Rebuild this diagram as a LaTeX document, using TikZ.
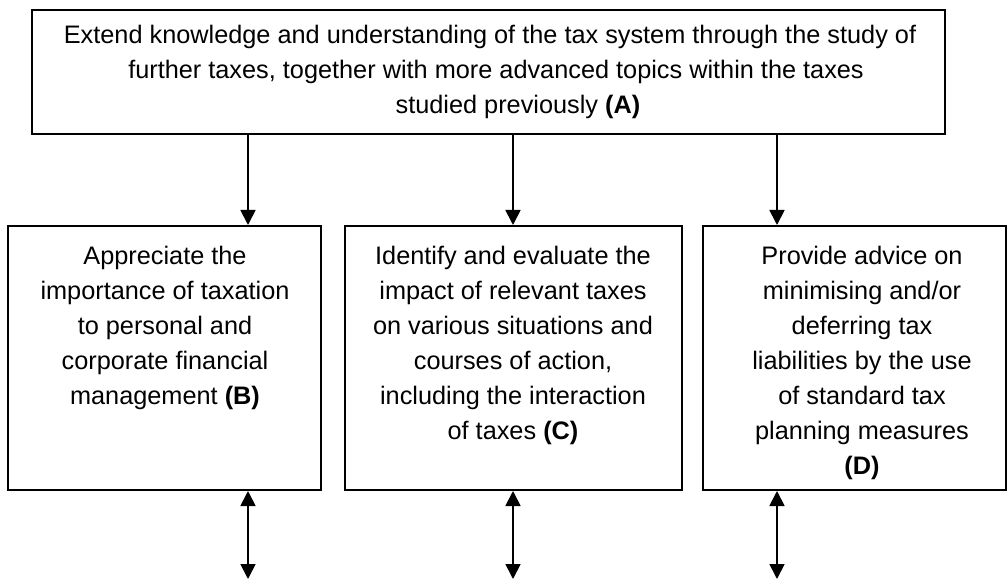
\documentclass[tikz,border=0pt]{standalone}
\usepackage{fontspec}
\setmainfont{Liberation Sans}
\usetikzlibrary{arrows.meta}
\begin{document}
\begin{tikzpicture}[x=1pt,y=-1pt,
  box/.style={draw, line width=2pt, inner sep=0pt},
  txt/.style={font=\fontsize{25.3}{35}\selectfont, align=center, inner sep=0pt},
  arr/.style={line width=1.8pt, -{Triangle[length=15pt,width=15pt]}},
  darr/.style={line width=1.8pt, {Triangle[length=15pt,width=15pt]}-{Triangle[length=15pt,width=15pt]}}]
\useasboundingbox (0,0) rectangle (1007,580);
% boxes
\node[box, minimum width=913pt, minimum height=124pt] (A) at (488.5,72) {};
\node[box, minimum width=313pt, minimum height=264pt] (B) at (164.5,358) {};
\node[box, minimum width=337pt, minimum height=264pt] (C) at (513.5,358) {};
\node[box, minimum width=303pt, minimum height=264pt] (D) at (854.5,358) {};
% texts
\node[txt] (tA) at (490,72) {Extend knowledge and understanding of the tax system through the study of\\
  \hspace*{12pt}further taxes, together with more advanced topics within the taxes\\
  \hspace*{56pt}studied previously \textbf{(A)}};
\node[txt, anchor=north] (tB) at (165,246) {Appreciate the\\importance of taxation\\to personal and\\corporate financial\\management \textbf{(B)}};
\node[txt, anchor=north] (tC) at (513,246) {Identify and evaluate the\\impact of relevant taxes\\on various situations and\\courses of action,\\including the interaction\\of taxes \textbf{(C)}};
\node[txt, anchor=north] (tD) at (862,246) {Provide advice on\\minimising and/or\\deferring tax\\liabilities by the use\\of standard tax\\planning measures\\\textbf{(D)}};
% arrows down
\draw[arr] (248,0 |- A.south) -- (248,0 |- B.north);
\draw[arr] (513,0 |- A.south) -- (513,0 |- C.north);
\draw[arr] (777,0 |- A.south) -- (777,0 |- D.north);
% double arrows at bottom
\coordinate (eB) at (248,579);
\coordinate (eC) at (513,579);
\coordinate (eD) at (777,579);
\draw[darr] (248,0 |- B.south) -- (eB);
\draw[darr] (513,0 |- C.south) -- (eC);
\draw[darr] (777,0 |- D.south) -- (eD);
\end{tikzpicture}
\end{document}
